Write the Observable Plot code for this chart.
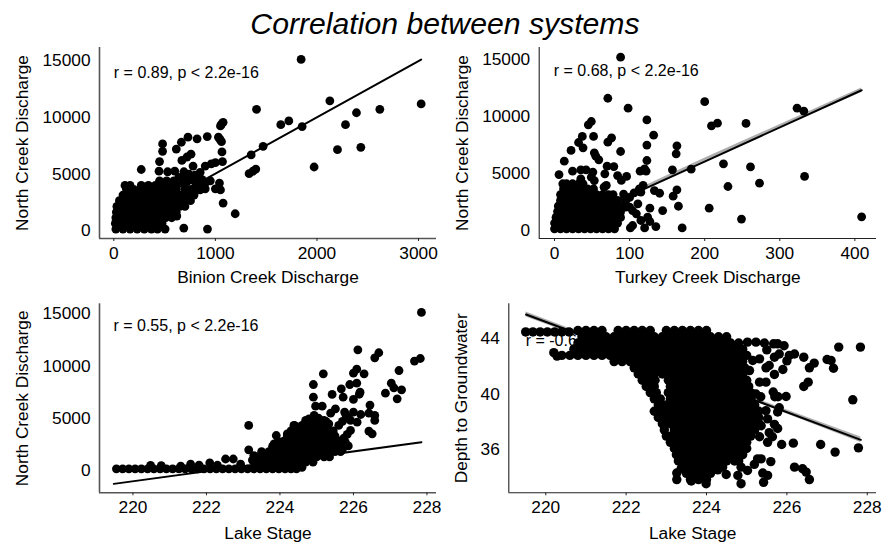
<!DOCTYPE html>
<html>
<head>
<meta charset="utf-8">
<script src="https://cdn.jsdelivr.net/npm/d3@7"></script>
<script src="https://cdn.jsdelivr.net/npm/@observablehq/plot@0.6"></script>
<style>
html,body{margin:0;padding:0;background:#fff;}
#page{position:relative;width:888px;height:544px;overflow:hidden;font-family:"Liberation Sans",Arial,sans-serif;}
#title{position:absolute;left:0;width:890px;top:6px;text-align:center;font-style:italic;font-size:30.2px;line-height:36px;color:#000;}
#page svg{position:absolute;background:transparent;}
</style>
</head>
<body>
<div id="page"><div id="title">Correlation between systems</div></div>
<script>
// ---------- Panel A: Binion Creek vs North Creek ----------
const binionSingles = [[1844,15100],[3026,11180],[2127,11450],[1405,10700],[2619,10700],[2389,10400],[1723,9680],[1644,9350],[1854,9180],[2281,9350],[2202,7150],[2432,7350],[1972,5620],[1470,7440],[1352,6680],[1398,5440],[1332,5030],[1370,5250],[1195,1500],[1076,2440],[922,150],[689,235],[505,150],[1076,9560],[1050,9240],[1060,9400],[920,8300],[1030,8250],[1060,7850],[1045,8050],[1065,6950],[1070,6100],[820,8100],[730,8250],[665,7800],[615,7200],[480,7650],[480,7000],[670,6200],[720,6500],[760,6750],[900,5700],[960,5900],[1000,6000],[450,6100],[270,5400],[445,5250],[530,5200],[600,5250],[690,5200],[780,5700],[740,5000],[800,4900],[850,5150],[870,4500],[1040,4200],[1000,3700],[1050,3600],[950,4400],[700,4700],[640,4700],[900,3700],[850,3600],[800,4300],[620,1300],[770,4500],[830,4700],[700,3650],[680,4200],[720,4300],[850,4200],[900,4200],[820,3900]];
const binionRows = [
 [150,[20,90,160,230,300,370,430]],
 [650,[15,55,125,195,265,335,405,475]],
 [1150,[20,90,160,230,300,370,440,510,570]],
 [1650,[25,55,125,195,265,335,405,475,545,615]],
 [2150,[30,90,160,230,300,370,440,510,580,650,700]],
 [2650,[55,125,195,265,335,405,475,545,615,685,755]],
 [3150,[90,160,230,300,370,440,510,580,650,720,790]],
 [3650,[125,195,265,335,405,475,545,615,760,830]],
 [4000,[110,160,270,340,410,480,550,620,870]],
 [4400,[450,520,590]]
];
const binionLine = [[5,100],[3026,15090]];
const binionTicksX = [0,1000,2000,3000];
const northTicks = [0,5000,10000,15000];

// ---------- Panel B: Turkey Creek vs North Creek ----------
const turkeySingles = [[88,15200],[71,11600],[98,10730],[200,11300],[323,10730],[332,10470],[409,1200],[333,4740],[273,4150],[261,5580],[231,3860],[225,5850],[206,1960],[249,1000],[170,230],[255,9390],[217,9410],[209,9180],[123,9700],[49,9560],[45,9270],[132,8360],[52,8250],[37,8250],[32,7720],[38,7250],[76,8130],[71,7750],[22,7020],[88,6930],[123,7490],[163,7430],[162,6730],[53,6810],[55,6520],[59,6200],[13,6080],[123,6140],[182,5380],[157,5320],[114,5200],[120,5400],[122,5200],[6,4910],[24,5200],[35,5320],[42,5320],[51,5120],[70,5640],[79,5610],[67,4970],[84,4820],[96,4740],[89,4390],[35,4530],[49,4680],[53,4380],[69,3950],[66,3800],[118,3950],[113,3650],[133,3500],[140,3270],[163,3570],[158,3010],[165,2130],[144,1750],[127,1960],[124,1170],[115,880],[127,790],[120,230],[135,350],[104,440],[101,230],[109,1460],[100,2050],[95,2630],[100,2900],[111,2340],[115,3360],[104,1750],[95,2050],[92,3200],[106,3300]];
const turkeyRows = [
 [150,[0,8,16,24,32,40,48,56,64,72,80]],
 [650,[0,4,12,20,28,36,44,52,60,68,76,84]],
 [1150,[2,8,16,24,32,40,48,56,64,72,80,88]],
 [1650,[4,12,20,28,36,44,52,60,68,76,84,88]],
 [2150,[5,8,16,24,32,40,48,56,64,72,80,88]],
 [2650,[8,12,20,28,36,44,52,60,68,76,84]],
 [3150,[8,16,24,32,40,48,56,64,72,78]],
 [3650,[12,20,28,36,44,52]],
 [4100,[11,16,24,32,38]]
];
const turkeyLine = [[1,100],[409,12300]];
const turkeyBand = [[1,-60,260],[200,6100,6330],[409,12100,12500]];
const turkeyTicksX = [0,100,200,300,400];

// ---------- Panel C: Lake Stage vs North Creek ----------
const stageSingles = [[227.85,15130],[226.12,11550],[226.69,11270],[226.58,10790],[227.82,10720],[227.66,10470],[227.24,9570],[225.18,9250],[226.29,9250],[226,9320],[226.09,9700],[224.91,8230],[225.67,7820],[225.9,8230],[226.09,8360],[226.18,7500],[226.16,7300],[227.03,8360],[227.1,7910],[227.31,7720],[226.87,7400],[227.19,6860],[225.42,7280],[225.72,7020],[226,6800],[224.91,7020],[224.97,6160],[225.15,6160],[226.45,6260],[225.51,5900],[225.38,5490],[225.76,5590],[226,5590],[226.2,5360],[226.42,5490],[226.58,5270],[226.58,4790],[226.1,4630],[226.42,3770],[226.51,3510],[225.6,4310],[225.88,4950],[225.8,5300],[225.7,4700],[225.92,3830],[225.83,3450],[225.74,3100],[225.92,4800],[223.15,4310],[223.15,1980],[225.66,2500],[225.78,2700],[225.86,2350],[225.7,2000],[225.33,4470],
 [220.48,480],[220.77,460],[221.3,420],[221.57,600],[221.8,520],[222.09,730],[222.52,1100],[222.73,1100],[222.3,500],[222.93,600],[223.29,1430],[223.25,1000],[223.84,2550],[223.9,3350],[224.2,3500],[224.38,4310],[224.6,4300],[224.79,4950],[224.93,5270],[225.05,5000],[225.25,4700]];
const stageBase = [219.55,219.72,219.89,220.06,220.23,220.4,220.57,220.74,220.91,221.08,221.25,221.42,221.59,221.76,221.93,222.1,222.27,222.44,222.61,222.78,222.95,223.12,223.29,223.46,223.63,223.8,223.97,224.14,224.3,224.45];
const stageRows = [
 [300,[223.4,223.6,223.8,224,224.2,224.4,224.6]],
 [800,[223.3,223.5,223.7,223.9,224.1,224.3,224.5,224.7,224.9]],
 [1300,[223.4,223.6,223.8,224,224.2,224.4,224.6,224.8,225,225.2,225.35]],
 [1800,[223.5,223.7,223.9,224.1,224.3,224.5,224.7,224.9,225.1,225.3,225.5,225.65]],
 [2300,[223.8,224,224.2,224.4,224.6,224.8,225,225.2,225.4,225.6]],
 [2800,[223.95,224.1,224.3,224.5,224.7,224.9,225.1,225.3,225.5,225.6]],
 [3300,[224.2,224.4,224.6,224.8,225,225.2,225.4,225.5]],
 [3800,[224.3,224.5,224.7,224.9,225.1,225.3,225.45]],
 [4300,[224.4,224.6,224.8,225,225.2,225.3]],
 [4800,[224.7,224.9,225.1,225.2]]
];
const stageLine = [[219.48,-1280],[227.85,2710]];
const stageTicksX = [220,222,224,226,228];

// ---------- Panel D: Lake Stage vs Depth to Groundwater ----------
const depthSingles = [[227.83,43.4],[227.29,43.4],[227.64,39.58],[227.78,36.1],[227.2,35.79],[226.84,36.34],[226.16,36.44],[225.87,36.34],[227.16,41.87],[227,42.5],[227.1,42.43],[226.68,42.24],[226.56,41.9],[226.42,42.67],[226.53,40.86],[226.42,40.55],[225.98,39.82],[225.78,39.8],[225.66,40.15],[225.7,39.8],[225.9,41.78],[225.69,41.42],[226.19,42.9],[226.06,42.8],[226,42.4],[225.77,43.64],[225.93,43.5],[225.67,43.64],[225.23,43.76],[225.44,43.7],[225.02,43.76],[225.5,43.2],[225.81,42.9],[225.69,42.67],[225.56,42.07],[225.48,41.9],[225.32,42.55],[225.15,42.43],[225.07,41.7],[225.48,40.86],[225.32,40.86],[225.23,40],[225.35,39.8],[225.77,38.7],[225.81,39],[225.52,38.2],[225.48,38.8],[225.69,37.8],[225.77,37.5],[225.56,37.2],[225.64,36.9],[225.36,37.7],[225.32,36.9],[225.52,36.5],[225.27,35.3],[225.19,34.9],[225.6,35.1],[225.36,35.3],[226.19,34.7],[226.39,34.58],[226.48,34.34],[226.56,33.8],[225.4,34.27],[225.52,34.1],[225.42,33.6],[224.86,34.7],[225.02,34.46],[224.78,34.1],[224.86,33.5],[224.49,34.17],[224.28,34.5],[223.26,34.27],[223.26,33.8],[223.37,34.6],[223.62,33.7],[223.99,33.5],[220.2,43.0],[220.28,42.75]];
const depthRows = [
 [44.5,[219.5,219.68,219.86,220.04,220.22,220.4,220.58]],
 [44.6,[220.8,221,221.2,221.4,221.8,222,222.2,222.4,222.6,223,223.2,223.4,223.6,223.8,224]],
 [44.15,[220.9,221.1,221.3,221.5,221.7,221.9,222.1,222.3,222.5,222.7,222.9,223.1,223.3,223.5,223.7,223.9,224.1,224.3,224.5]],
 [43.7,[220.8,221,221.2,221.4,221.6,221.8,222,222.2,222.4,222.6,222.8,223,223.2,223.4,223.6,223.8,224,224.2,224.4,224.6,224.8]],
 [43.25,[220.7,220.9,221.1,221.3,221.5,221.7,221.9,222.1,222.3,222.5,222.7,222.9,223.1,223.3,223.5,223.7,223.9,224.1,224.3,224.5,224.7,224.9]],
 [42.8,[220.4,220.6,220.8,221,221.2,221.4,221.6,221.8,222,222.2,222.4,222.6,222.8,223,223.2,223.4,223.6,223.8,224,224.2,224.4,224.6,224.8,225]],
 [42.35,[221.7,221.9,222.1,222.3,222.5,222.7,222.9,223.1,223.3,223.5,223.7,223.9,224.1,224.3,224.5,224.7,224.9]],
 [41.9,[222.2,222.4,222.6,222.8,223,223.2,223.4,223.6,223.8,224,224.2,224.4,224.6,224.8,224.95]],
 [41.45,[222.3,222.5,222.7,222.9,223.1,223.3,223.5,223.7,223.9,224.1,224.3,224.5,224.7,224.9]],
 [41,[222.4,222.6,222.72,223.05,223.2,223.4,223.6,223.8,224,224.2,224.4,224.6,224.8,225]],
 [40.55,[222.5,222.7,223.1,223.3,223.5,223.7,223.9,224.1,224.3,224.5,224.7,224.9,225.05]],
 [40.1,[222.6,222.75,223.05,223.2,223.4,223.6,223.8,224,224.2,224.4,224.6,224.8,225,225.1]],
 [39.65,[222.7,222.85,223.1,223.3,223.5,223.7,223.9,224.1,224.3,224.5,224.7,224.9,225.1]],
 [39.2,[222.8,223,223.2,223.4,223.6,223.8,224,224.2,224.4,224.6,224.8,225,225.2]],
 [38.75,[222.7,222.9,223.1,223.3,223.5,223.7,223.9,224.1,224.3,224.5,224.7,224.9,225.1,225.3]],
 [38.3,[222.8,223,223.2,223.4,223.6,223.8,224,224.2,224.4,224.6,224.8,225,225.2,225.3]],
 [37.85,[222.9,223.1,223.3,223.5,223.7,223.9,224.1,224.3,224.5,224.7,224.9,225.1,225.3]],
 [37.4,[222.95,223.2,223.4,223.6,223.8,224,224.2,224.4,224.6,224.8,225,225.2]],
 [36.95,[223,223.1,223.3,223.5,223.7,223.9,224.1,224.3,224.5,224.7,224.9,225.1]],
 [36.5,[223.1,223.2,223.4,223.6,223.8,224,224.2,224.4,224.6,224.8,225]],
 [36.05,[223.2,223.3,223.5,223.7,223.9,224.1,224.3,224.5,224.7,224.9,225]],
 [35.6,[223.25,223.4,223.6,223.8,224,224.2,224.4,224.6,224.8,224.9]],
 [35.15,[223.3,223.5,223.7,223.9,224.1,224.3,224.5,224.7,224.8]],
 [34.7,[223.4,223.6,223.8,224,224.2,224.4]],
 [34.25,[223.5,223.7,223.9,224.1]],
 [33.8,[223.6,223.8,224]]
];
const depthLine = [[219.51,45.76],[227.84,36.68]];
const depthBand = [[219.51,45.58,45.94],[223.7,41.14,41.3],[227.84,36.48,36.88]];
const depthTicksX = [220,222,224,226,228];
const depthTicksY = [36,40,44];

// Correlation labels
const labels = ["r = 0.89, p < 2.2e-16","r = 0.68, p < 2.2e-16","r = 0.55, p < 2.2e-16","r = -0.6, p < 2.2e-16"];

const merge = (singles, rows) => [...singles, ...rows.flatMap(([y, xs]) => xs.map(x => [x, y]))];

function panel(o){
  const marks = [
    Plot.text([o.label],{x:()=>o.labelAt[0],y:()=>o.labelAt[1],text:d=>d,textAnchor:"start",fontSize:16,fill:"#000"})
  ];
  if(o.band) marks.push(Plot.areaY(o.band,{x:"0",y1:"1",y2:"2",fill:"#999",fillOpacity:0.8}));
  marks.push(
    Plot.line(o.line,{x:"0",y:"1",stroke:"#000",strokeWidth:2}),
    Plot.dot(o.points,{x:"0",y:"1",r:o.r,fill:"#000",stroke:"none"}),
    Plot.ruleX([o.xDomain[0]],{stroke:o.axisColor,strokeWidth:o.axisWidth}),
    Plot.ruleY([o.yDomain[0]],{stroke:o.axisColor,strokeWidth:o.axisWidth}),
    Plot.axisX({ticks:o.xTicks,tickFormat:d=>String(d),tickSize:3,tickPadding:5,label:o.xLabel,labelAnchor:"center",labelArrow:"none",labelOffset:o.xLabelOffset,stroke:"#222",fontSize:17.3}),
    Plot.axisY({ticks:o.yTicks,tickFormat:d=>String(d),tickSize:0,tickPadding:9,label:o.yLabel,labelAnchor:"center",labelArrow:"none",labelOffset:o.yLabelOffset,fontSize:17.3})
  );
  const svg = Plot.plot({
    width:444,height:o.h,
    marginLeft:o.ml,marginRight:o.mr,marginTop:o.mt,marginBottom:o.mb,
    x:{domain:o.xDomain},y:{domain:o.yDomain},
    style:{fontFamily:'"Liberation Sans",Arial,sans-serif',fontSize:"17.3px",color:"#000",background:"transparent",overflow:"visible"},
    marks
  });
  svg.style.left=o.left+"px";svg.style.top=o.top+"px";
  document.getElementById("page").appendChild(svg);
}

panel({left:0,top:40,h:250,ml:99,mr:8,mt:7,mb:52,axisColor:"#555",axisWidth:1.6,r:4.4,
  xDomain:[-141,3177],yDomain:[-680,16150],xTicks:binionTicksX,yTicks:northTicks,
  xLabel:"Binion Creek Discharge",yLabel:"North Creek Discharge",yLabelOffset:84,xLabelOffset:44.5,
  label:labels[0],labelAt:[0,13880],points:merge(binionSingles,binionRows),line:binionLine});
panel({left:444,top:40,h:250,ml:94.7,mr:12,mt:7,mb:52,axisColor:"#222",axisWidth:1.1,r:4.4,
  xDomain:[-20.4,428.8],yDomain:[-700,16050],xTicks:turkeyTicksX,yTicks:northTicks,
  xLabel:"Turkey Creek Discharge",yLabel:"North Creek Discharge",yLabelOffset:83,xLabelOffset:44.5,
  label:labels[1],labelAt:[-1,14035],points:merge(turkeySingles,turkeyRows),line:turkeyLine,band:turkeyBand});
panel({left:0,top:290,h:254,ml:99,mr:8,mt:13.3,mb:51.7,axisColor:"#555",axisWidth:1.6,r:4.4,
  xDomain:[219.09,228.26],yDomain:[-2135,15957],xTicks:stageTicksX,yTicks:northTicks,
  xLabel:"Lake Stage",yLabel:"North Creek Discharge",yLabelOffset:84,xLabelOffset:46,
  label:labels[2],labelAt:[219.47,13880],points:merge(stageSingles,[[160,stageBase],...stageRows]),line:stageLine});
panel({left:444,top:290,h:254,ml:64.3,mr:12,mt:13.3,mb:51.7,axisColor:"#222",axisWidth:1.1,r:4.7,
  xDomain:[219.08,228.23],yDomain:[32.84,46.54],xTicks:depthTicksX,yTicks:depthTicksY,
  xLabel:"Lake Stage",yLabel:"Depth to Groundwater",yLabelOffset:54,xLabelOffset:46,
  label:labels[3],labelAt:[219.5,43.88],points:merge(depthSingles,depthRows),line:depthLine,band:depthBand});
</script>
</body>
</html>
